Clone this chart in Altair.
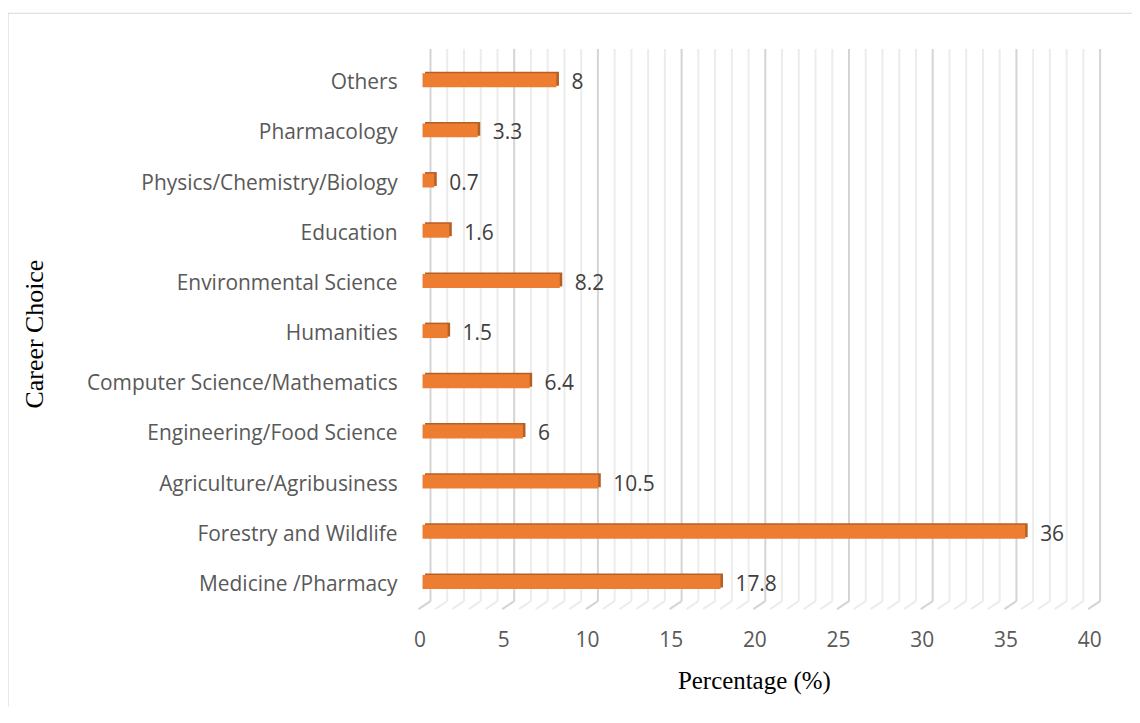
import altair as alt
import pandas as pd

categories = ["Medicine /Pharmacy", "Forestry and Wildlife", "Agriculture/Agribusiness",
              "Engineering/Food Science", "Computer Science/Mathematics", "Humanities\u00a0",
              "Environmental Science", "Education", "Physics/Chemistry/Biology",
              "Pharmacology", "Others\u00a0"]
values = [17.8, 36, 10.5, 6, 6.4, 1.5, 8.2, 1.6, 0.7, 3.3, 8]
labels = ["17.8", "36", "10.5", "6", "6.4", "1.5", "8.2", "1.6", "0.7", "3.3", "8"]
x_ticks = [0, 5, 10, 15, 20, 25, 30, 35, 40]
x_tick_labels = ["0", "5", "10", "15", "20", "25", "30", "35", "40"]
grid_values = list(range(0, 41))
x_title = "Percentage (%)"
y_title = "Career Choice"

W, H = 672, 554
order = list(reversed(categories))

df = pd.DataFrame({"cat": categories, "value": values, "label": labels})
grid = pd.DataFrame({"value": grid_values, "major": [g % 5 == 0 for g in grid_values]})
ticks = pd.DataFrame({"value": x_ticks, "label": x_tick_labels})

xscale = alt.Scale(domain=[0, 40], nice=False, zero=True)
yscale = alt.Scale(domain=order, paddingInner=0, paddingOuter=0)

gridcolor = alt.condition("datum.major", alt.value("#D4D4D4"), alt.value("#ECECEC"))

grid_rules = alt.Chart(grid).mark_rule(strokeWidth=2, xOffset=8).encode(
    x=alt.X("value:Q", scale=xscale, axis=None),
    y=alt.value(0), y2=alt.value(H),
    color=gridcolor,
)
floor_rules = alt.Chart(grid).mark_rule(strokeWidth=2, xOffset=8, x2Offset=-4).encode(
    x=alt.X("value:Q", scale=xscale, axis=None),
    x2="value:Q",
    y=alt.value(H), y2=alt.value(H + 8),
    color=gridcolor,
)

back_bars = alt.Chart(df).mark_bar(size=14, color="#B45F24", xOffset=2.5, x2Offset=2.5, yOffset=4.5).encode(
    x=alt.X("value:Q", scale=xscale, axis=None),
    y=alt.Y("cat:N", scale=yscale, sort=order, axis=None),
)

front_bars = alt.Chart(df).mark_bar(size=14, color="#ED7D31", yOffset=6).encode(
    x=alt.X("value:Q", scale=xscale, axis=None),
    y=alt.Y("cat:N", scale=yscale, sort=order, axis=None),
)

value_text = alt.Chart(df).mark_text(align="left", baseline="middle", dx=15, dy=9,
                                     fontSize=21, font="Open Sans", color="#404040").encode(
    x=alt.X("value:Q", scale=xscale, axis=None),
    y=alt.Y("cat:N", scale=yscale, sort=order, axis=None),
    text="label:N",
)

cat_text = alt.Chart(df).mark_text(align="right", baseline="middle", dy=9,
                                   fontSize=21, font="Open Sans", color="#595959").encode(
    x=alt.value(-25),
    y=alt.Y("cat:N", scale=yscale, sort=order, axis=None),
    text="cat:N",
)

tick_text = alt.Chart(ticks).mark_text(align="center", baseline="middle", dx=-2.5,
                                       fontSize=21, font="Open Sans", color="#595959").encode(
    x=alt.X("value:Q", scale=xscale, axis=None),
    y=alt.value(594),
    text="label:N",
)

xtitle = alt.Chart(pd.DataFrame({"t": [x_title]})).mark_text(
    align="center", baseline="middle", fontSize=25, font="Liberation Serif", color="#000000"
).encode(x=alt.value(333), y=alt.value(634), text="t:N")

ytitle = alt.Chart(pd.DataFrame({"t": [y_title]})).mark_text(
    align="center", baseline="middle", fontSize=26, font="Liberation Serif", color="#000000",
    angle=270
).encode(x=alt.value(-389), y=alt.value(286), text="t:N")

border = alt.Chart(pd.DataFrame({"a": [0]})).mark_rect(
    fillOpacity=0, stroke="#D9D9D9", strokeWidth=1.2
).encode(x=alt.value(-416), x2=alt.value(2000), y=alt.value(-36), y2=alt.value(2000))

chart = alt.layer(grid_rules, floor_rules, back_bars, front_bars, value_text,
                  cat_text, tick_text, xtitle, ytitle, border).properties(
    width=W, height=H,
    autosize=alt.AutoSizeParams(type="none"),
    padding={"left": 416, "top": 40, "right": 40, "bottom": 105},
).configure_view(stroke=None)

chart.save("out.html", embed_options={"renderer": "svg", "actions": False})
